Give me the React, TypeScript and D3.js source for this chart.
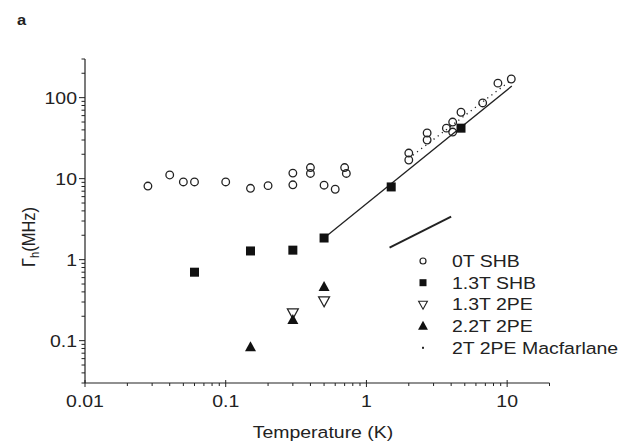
import React from "react";
import * as d3 from "d3";

// ---- data ----
const shb0T_T = [0.028, 0.04, 0.05, 0.06, 0.1, 0.15, 0.2, 0.3, 0.3, 0.4, 0.4, 0.5, 0.6, 0.7, 0.72, 2.0, 2.0, 2.7, 2.7, 3.7, 4.1, 4.1, 4.7, 6.7, 8.6, 10.7];
const shb0T_G = [8.1, 11.1, 9.1, 9.1, 9.1, 7.6, 8.2, 11.7, 8.4, 13.7, 11.6, 8.3, 7.4, 13.7, 11.6, 20.7, 17.0, 36.6, 30.0, 42, 50, 37.6, 66, 86, 151, 170];

const shb13_T = [0.06, 0.15, 0.3, 0.5, 1.5, 4.7];
const shb13_G = [0.70, 1.28, 1.31, 1.85, 7.9, 42];

const pe13_T = [0.3, 0.5];
const pe13_G = [0.22, 0.31];

const pe22_T = [0.15, 0.3, 0.5];
const pe22_G = [0.083, 0.18, 0.46];

const fitLine_T = [0.5, 10.8];
const fitLine_G = [1.85, 139];

const refLine_T = [1.46, 4.0];
const refLine_G = [1.41, 3.4];

const macf_T = [2.14, 10.5];
const macf_G = [19.5, 161];

const xTicks = [0.01, 0.1, 1, 10];
const xTickLabels = ["0.01", "0.1", "1", "10"];
const yTicks = [0.1, 1, 10, 100];
const yTickLabels = ["0.1", "1", "10", "100"];

const legendLabels = ["0T SHB", "1.3T SHB", "1.3T 2PE", "2.2T 2PE", "2T 2PE Macfarlane"];

// ---- layout ----
const W = 624, H = 443;
const x = d3.scaleLog().domain([0.01, 20]).range([85, 549.5]);
const y = d3.scaleLog().domain([0.03, 300]).range([383, 59]);
const ink = "#222";
const FS = 16.5;
const SX = 1.18;

function T({ x: tx, y: ty, anchor = "start", children, size = FS, weight = "normal" }: any) {
  return (
    <text
      transform={`translate(${tx},${ty}) scale(${SX},1)`}
      textAnchor={anchor}
      fontFamily="'Liberation Sans', Arial, sans-serif"
      fontSize={size}
      fontWeight={weight}
      fill={ink}
    >
      {children}
    </text>
  );
}

function minorTicks(lo: number, hi: number) {
  const out: number[] = [];
  for (let e = -3; e <= 3; e++) {
    for (let k = 1; k <= 9; k++) {
      const v = k * Math.pow(10, e);
      if (v >= lo * 0.9999 && v <= hi * 1.0001) out.push(v);
    }
  }
  return out;
}

const triUp = (cx: number, cy: number, s: number) =>
  `M${cx},${cy - s * 0.6}L${cx + s * 0.55},${cy + s * 0.4}L${cx - s * 0.55},${cy + s * 0.4}Z`;
const triDown = (cx: number, cy: number, s: number) =>
  `M${cx},${cy + s * 0.6}L${cx + s * 0.55},${cy - s * 0.4}L${cx - s * 0.55},${cy - s * 0.4}Z`;

export default function App() {
  const line = d3.line<[number, number]>().x((d) => x(d[0])).y((d) => y(d[1]));
  const fitPts = fitLine_T.map((t, i) => [t, fitLine_G[i]] as [number, number]);
  const refPts = refLine_T.map((t, i) => [t, refLine_G[i]] as [number, number]);
  const macPts = macf_T.map((t, i) => [t, macf_G[i]] as [number, number]);

  const xMinor = minorTicks(0.01, 20);
  const yMinor = minorTicks(0.03, 300);
  const legX = 423, legTX = 452, legY0 = 261, legDY = 21.7;

  return (
    <svg width={W} height={H} style={{ position: "absolute", left: 0, top: 0, background: "#fff" }}>
      <rect width={W} height={H} fill="#fff" />
      <T x={17} y={25} size={14} weight="bold">a</T>

      {/* axes */}
      <line x1={85} x2={85} y1={59} y2={383} stroke={ink} strokeWidth={1.2} />
      <line x1={85} x2={549.5} y1={383} y2={383} stroke={ink} strokeWidth={1.2} />
      {yMinor.map((v, i) => {
        const major = yTicks.includes(v);
        return <line key={"ym" + i} x1={85 - (major ? 6 : 3.5)} x2={85} y1={y(v)} y2={y(v)} stroke={ink} strokeWidth={1} />;
      })}
      {xMinor.map((v, i) => {
        const major = xTicks.includes(v);
        return <line key={"xm" + i} x1={x(v)} x2={x(v)} y1={383 - (major ? 3 : 0)} y2={383 + (major ? 4 : 3)} stroke={ink} strokeWidth={1} />;
      })}
      {yTicks.map((v, i) => (
        <T key={"yl" + i} x={77} y={y(v) + 6} anchor="end">{yTickLabels[i]}</T>
      ))}
      {xTicks.map((v, i) => (
        <T key={"xl" + i} x={x(v)} y={407} anchor="middle">{xTickLabels[i]}</T>
      ))}
      <T x={323} y={438} anchor="middle">Temperature (K)</T>
      <text
        transform={`translate(35,237) scale(1.1,1) rotate(-90)`}
        textAnchor="middle"
        fontFamily="'Liberation Sans', Arial, sans-serif"
        fontSize={16.5}
        fill={ink}
      >
        Γ<tspan fontSize={11} dy={4}>h</tspan><tspan dy={-4}>(MHz)</tspan>
      </text>

      {/* lines */}
      <path d={line(fitPts) || ""} fill="none" stroke={ink} strokeWidth={1.3} />
      <path d={line(refPts) || ""} fill="none" stroke={ink} strokeWidth={2} />
      <path d={line(macPts) || ""} fill="none" stroke={ink} strokeWidth={1.3} strokeDasharray="1.2,4" />

      {/* series */}
      {shb0T_T.map((t, i) => (
        <circle key={"c" + i} cx={x(t)} cy={y(shb0T_G[i])} r={3.8} fill="#fff" fillOpacity={0} stroke={ink} strokeWidth={1.3} />
      ))}
      {shb13_T.map((t, i) => (
        <rect key={"s" + i} x={x(t) - 4.5} y={y(shb13_G[i]) - 4.5} width={9} height={9} fill="#111" />
      ))}
      {pe13_T.map((t, i) => (
        <path key={"td" + i} d={triDown(x(t), y(pe13_G[i]), 10)} fill="#fff" stroke={ink} strokeWidth={1.2} />
      ))}
      {pe22_T.map((t, i) => (
        <path key={"tu" + i} d={triUp(x(t), y(pe22_G[i]), 10)} fill="#111" />
      ))}

      {/* legend */}
      <circle cx={legX} cy={legY0} r={3} fill="#fff" stroke={ink} strokeWidth={1.2} />
      <rect x={legX - 3.5} y={legY0 + legDY - 3.5} width={7} height={7} fill="#111" />
      <path d={triDown(legX, legY0 + legDY * 2, 8)} fill="#fff" stroke={ink} strokeWidth={1.1} />
      <path d={triUp(legX, legY0 + legDY * 3, 9)} fill="#111" />
      <rect x={legX - 1} y={legY0 + legDY * 4 - 1} width={2} height={2} fill={ink} />
      {legendLabels.map((l, i) => (
        <T key={"lg" + i} x={legTX} y={legY0 + legDY * i + 6}>{l}</T>
      ))}
    </svg>
  );
}
